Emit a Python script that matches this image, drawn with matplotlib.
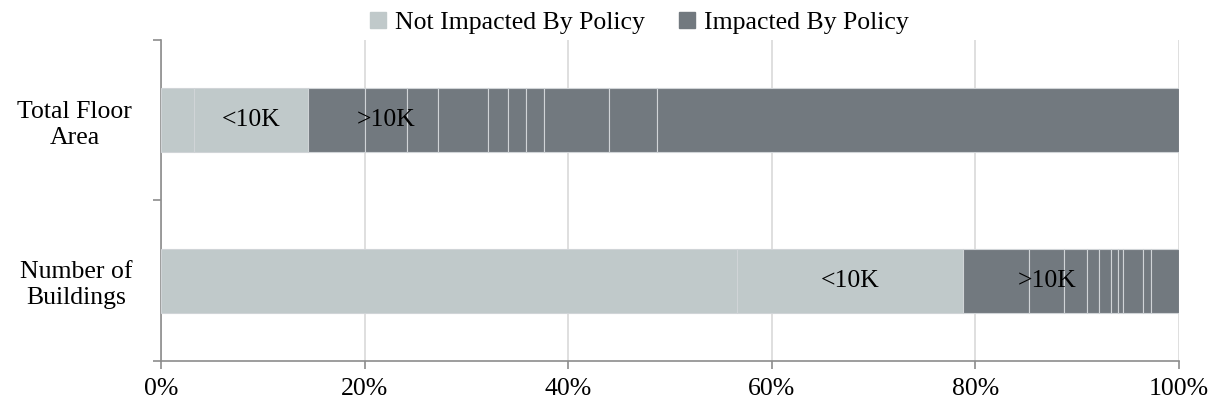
import matplotlib
matplotlib.use("Agg")
import matplotlib.pyplot as plt
from matplotlib.lines import Line2D
import numpy as np

# Share (%) of each building-size bin, stacked left to right
categories = ["Total Floor Area", "Number of Buildings"]

# bins below the 10K threshold (not impacted)
not_impacted = [
    [3.24, 56.60],
    [11.15, 22.21],
]
# bins above the 10K threshold (impacted)
impacted = [
    [5.63, 6.48],
    [4.15, 3.44],
    [3.05, 2.20],
    [4.91, 1.24],
    [1.97, 1.12],
    [1.77, 0.69],
    [1.76, 0.55],
    [6.39, 1.96],
    [4.72, 0.79],
    [51.26, 2.72],
]
group_names = ["Not Impacted By Policy", "Impacted By Policy"]
group_labels = ["<10K", ">10K"]
label_bin = 1  # bin that carries each group's text label

light = "#C0C9CA"
dark = "#72797F"
edge = "#D0D4D7"
axis_grey = "#8C8C8C"
font = "Liberation Serif"

fig = plt.figure(figsize=(12.19, 4.08), dpi=100)
ax = fig.add_axes([0.1323, 0.1152, 0.8349, 0.7868])

y = np.arange(len(categories))
left = np.zeros(len(categories))
bar_h = 0.40

for group, color, text in ((not_impacted, light, group_labels[0]),
                           (impacted, dark, group_labels[1])):
    for i, vals in enumerate(group):
        vals = np.asarray(vals, dtype=float)
        ax.barh(y, vals, left=left, height=bar_h, color=color,
                edgecolor=edge, linewidth=0.8, zorder=3)
        if i == label_bin:
            for yi, (l, v) in enumerate(zip(left, vals)):
                ax.text(l + v / 2, yi, text, ha="center", va="center",
                        fontsize=18.5, family=font, color="black", zorder=4)
        left = left + vals

ax.set_xlim(0, 100)
ax.set_ylim(len(categories) - 0.5, -0.5)
ax.set_xticks(np.arange(0, 101, 20))
ax.set_xticklabels([f"{v}%" for v in range(0, 101, 20)])
ax.set_yticks(y)
ax.set_yticklabels(["Total Floor\nArea", "Number of\nBuildings"])
ax.set_yticks([-0.5, 0.5, 1.5], minor=True)
ax.tick_params(axis="y", which="major", length=0, pad=21)
ax.tick_params(axis="y", which="minor", length=6, color=axis_grey, width=1.2)
ax.tick_params(axis="x", length=6, color=axis_grey, width=1.2, pad=6)
for lbl in ax.get_xticklabels() + ax.get_yticklabels():
    lbl.set_fontfamily(font)
    lbl.set_fontsize(18.5)
for lbl in ax.get_yticklabels():
    lbl.set_multialignment("center")
    lbl.set_linespacing(1.25)

ax.grid(axis="x", color="#D9D9D9", linewidth=1.2, zorder=0)
ax.set_axisbelow(True)
for side in ("top", "right"):
    ax.spines[side].set_visible(False)
for side in ("left", "bottom"):
    ax.spines[side].set_color(axis_grey)
    ax.spines[side].set_linewidth(1.2)

handles = [Line2D([0], [0], marker="s", linestyle="none", markersize=11,
                  markerfacecolor=c, markeredgecolor=c) for c in (light, dark)]
fig.legend(handles, group_names, loc="upper center", ncol=2, frameon=False,
           bbox_to_anchor=(0.524, 1.03), handlelength=0.7, handletextpad=0.3,
           columnspacing=1.3, prop={"family": font, "size": 18.5})

fig.savefig("out.png", dpi=100)
